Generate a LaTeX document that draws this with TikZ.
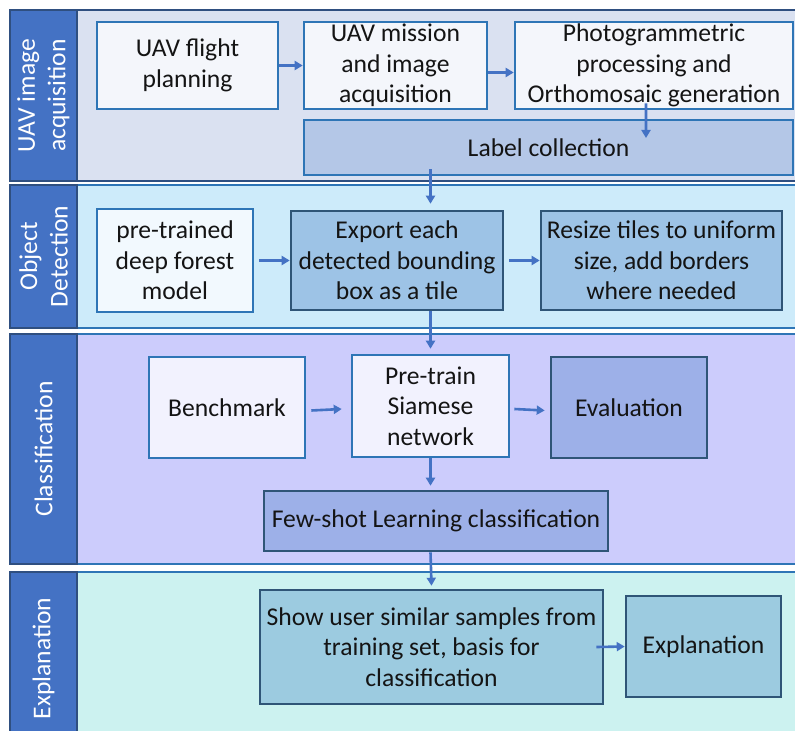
\documentclass[tikz,border=0pt]{standalone}
\usepackage{fontspec}
\setmainfont{Carlito}
\usetikzlibrary{positioning,arrows.meta}
\definecolor{lane}{HTML}{4472C4}
\definecolor{laneedge}{HTML}{2F4F80}
\definecolor{bandedge}{HTML}{2E75B6}
\definecolor{acqbg}{HTML}{DAE1F1}
\definecolor{detbg}{HTML}{CDEBFA}
\definecolor{clsbg}{HTML}{CCCCFC}
\definecolor{expbg}{HTML}{CCF2F0}
\definecolor{boxedge}{HTML}{2E75B6}
\definecolor{darkedge}{HTML}{2F5577}
\definecolor{paleA}{HTML}{F4F6FB}
\definecolor{paleB}{HTML}{F2F9FE}
\definecolor{paleC}{HTML}{F2F2FE}
\definecolor{labelfill}{HTML}{B4C7E7}
\definecolor{detfill}{HTML}{9DC3E6}
\definecolor{clsfill}{HTML}{9DB0E8}
\definecolor{expfill}{HTML}{9CCBE0}
\definecolor{arrowc}{HTML}{4472C4}
\definecolor{ink}{HTML}{141414}

\begin{document}
\begin{tikzpicture}[x=1bp,y=-1bp,font=\fontsize{25.6bp}{30.5bp}\selectfont,
    lanehead/.style={rotate=90,text=white,align=center},
    pale/.style={draw=boxedge,line width=2.6bp,align=center,inner sep=0pt,text=ink},
    deep/.style={draw=darkedge,line width=2.6bp,align=center,inner sep=0pt,text=ink},
    flow/.style={draw=arrowc,line width=2.6bp,-{Triangle[length=8bp,width=9bp]}}]
  \clip (0,0) rectangle (795,731);
  % the four stages: top, bottom, background, frame, title
  \foreach \t/\b/\bg/\ed/\ttl [count=\i] in {%
    10/181/acqbg/laneedge/{UAV image\\acquisition}, 185/328/detbg/bandedge/{Object\\Detection},
    334/564/clsbg/bandedge/{Classification}, 572/745/expbg/bandedge/{Explanation}}{
    \draw[fill=\bg,draw=\ed,line width=2.4bp] (10,\t) rectangle (800,\b);
    \draw[fill=lane,draw=laneedge,line width=2.4bp] (10,\t) rectangle (77,\b);
    \node[lanehead] (lane\i) at (43.5,{(\t+\b)/2}) {\ttl};}

  % UAV image acquisition
  \node[pale,fill=paleA,minimum width=181bp,minimum height=87bp] (plan) at (187.5,65.5) {UAV flight\\planning};
  \node[pale,fill=paleA,minimum width=183bp,minimum height=87bp] (mission) at (395.5,65.5) {UAV mission\\and image\\acquisition};
  \node[pale,fill=paleA,minimum width=278bp,minimum height=87bp] (photo) at (654,65.5) {Photogrammetric\\processing and\\Orthomosaic generation};
  \node[pale,fill=labelfill,minimum width=489bp,minimum height=55bp] (labels) at (548.5,147.5) {Label collection};

  % object detection
  \node[pale,fill=paleB,minimum width=156bp,minimum height=103bp] (dfmodel) at (175,260.5) {pre-trained\\deep forest\\model};
  \node[deep,fill=detfill,minimum width=212bp,minimum height=99bp] (tiles) at (397,260.5) {Export each\\detected bounding\\box as a tile};
  \node[deep,fill=detfill,minimum width=241bp,minimum height=99bp] (resize) at (661.5,260.5) {Resize tiles to uniform\\size, add borders\\where needed};

  % classification
  \node[pale,fill=paleC,minimum width=156bp,minimum height=101bp] (bench) at (227,407.5) {Benchmark};
  \node[pale,fill=paleC,minimum width=157bp,minimum height=102bp] (siamese) at (430.5,406) {Pre-train\\Siamese\\network};
  \node[deep,fill=clsfill,minimum width=156bp,minimum height=101bp] (evalc) at (629,407.5) {Evaluation};
  \node[deep,fill=clsfill,minimum width=344bp,minimum height=60bp] (fewshot) at (436,521) {Few-shot Learning classification};

  % explanation
  \node[deep,fill=expfill,minimum width=343bp,minimum height=114bp] (showsim) at (431.5,647) {Show user similar samples from\\training set, basis for\\classification};
  \node[deep,fill=expfill,minimum width=155bp,minimum height=101bp] (explain) at (703.5,646.5) {Explanation};

  \coordinate (labelsin) at (646,138);
  \draw[flow] (plan) -- (mission);
  \draw[flow] ([yshift=-7bp]mission.east) -- ([yshift=-7bp]photo.west);
  \draw[flow] ([xshift=-8bp,yshift=7bp]photo.south) -- (labelsin);
  \draw[flow] ([yshift=7bp]labels.south -| siamese) -- ([yshift=6bp]tiles.north -| siamese);
  \draw[flow] ([xshift=5bp]dfmodel.east) -- (tiles.west);
  \draw[flow] ([xshift=5bp]tiles.east) -- (resize.west);
  \draw[flow] (tiles.south -| siamese) -- ([yshift=5bp]siamese.north);
  \draw[flow] ([xshift=5bp,yshift=-3bp]bench.east) -- ([xshift=-9bp,yshift=-3bp]siamese.west);
  \draw[flow] ([xshift=4bp,yshift=-3bp]siamese.east) -- ([xshift=-5bp,yshift=-3bp]evalc.west);
  \draw[flow] (siamese.south) -- ([yshift=4bp]fewshot.north -| siamese);
  \draw[flow] (fewshot.south -| siamese) -- ([yshift=3bp]showsim.north);
  \draw[flow] ([xshift=-8bp]showsim.east) -- (explain.west);
\end{tikzpicture}
\end{document}
